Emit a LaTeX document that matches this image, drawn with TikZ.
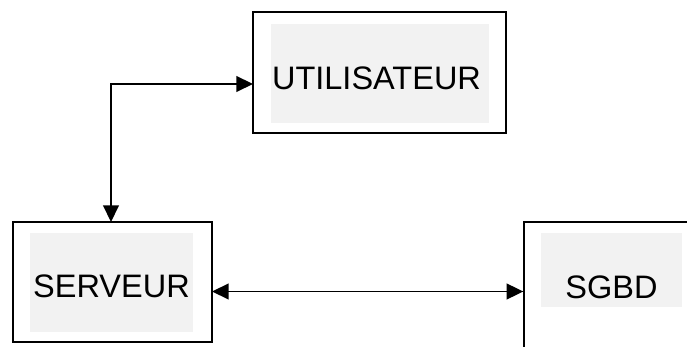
\documentclass[tikz,border=0pt]{standalone}
\usepackage{fontspec}
\setmainfont{Liberation Sans}
\usetikzlibrary{arrows.meta}
\definecolor{boxgrey}{HTML}{F2F2F2}
\tikzset{
  outerbox/.style={draw, line width=0.8pt, fill=white, inner sep=0pt},
  innerbox/.style={fill=boxgrey, inner sep=0pt},
  label/.style={anchor=base, inner sep=0pt, font=\fontsize{18.5}{22}\selectfont},
  link/.style={line width=0.9pt, {Triangle[length=9.5pt,width=9pt]}-{Triangle[length=9.5pt,width=9pt]}}
}
\begin{document}
\begin{tikzpicture}[x=0.02cm, y=-0.02cm]
      \useasboundingbox (0,0) rectangle (687,347);
      \clip (0,0) rectangle (687,347);
      \node[outerbox, minimum width=5.06cm, minimum height=2.42cm] (util) at (379.5,72.5) {};
      \node[innerbox, minimum width=4.36cm, minimum height=1.98cm] (utilin) at (380,73.5) {};
      \node[label] (utiltext) at (376.5,90) {UTILISATEUR};
      \node[outerbox, minimum width=3.98cm, minimum height=2.40cm] (serv) at (112.5,282) {};
      \node[innerbox, minimum width=3.26cm, minimum height=1.98cm] (servin) at (111.5,282.5) {};
      \node[label] (servtext) at (111.5,298) {SERVEUR};
      \node[outerbox, minimum width=4cm, minimum height=3cm] (sgbd) at (624,297) {};
      \node[innerbox, minimum width=2.82cm, minimum height=1.48cm] (sgbdin) at (611.5,270) {};
      \node[label] (sgbdtext) at (611.5,299) {SGBD};
      \coordinate (utilport) at (253,84);
      \coordinate (servtop) at (111,222);
      \coordinate (servport) at (212,291.5);
      \begin{scope}[link]
        \draw (servtop) |- (utilport);
        \draw (servport) -- (servport -| sgbd.west);
      \end{scope}
    \end{tikzpicture}
\end{document}
